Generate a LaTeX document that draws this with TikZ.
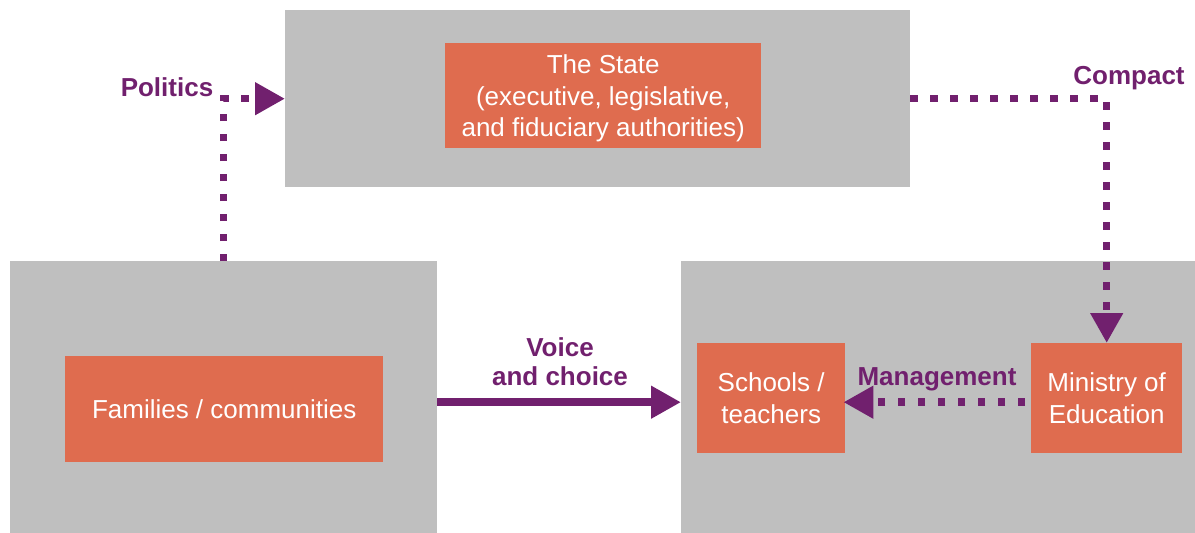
\documentclass[tikz,border=0pt]{standalone}
\usepackage{fontspec}
\setmainfont{Liberation Sans}
\usetikzlibrary{arrows.meta,positioning}
\definecolor{panelgray}{HTML}{BFBFBF}
\definecolor{actor}{HTML}{DF6C4F}
\definecolor{plum}{HTML}{71206E}
\begin{document}
\begin{tikzpicture}[
  x=1pt, y=-1pt,
  panel/.style={fill=panelgray, draw=none, inner sep=0pt, anchor=north west},
  actorbox/.style={fill=actor, draw=none, text=white, align=center, inner sep=0pt, anchor=north west,
    font=\fontsize{26}{31.5}\selectfont},
  lab/.style={text=plum, font=\fontsize{26}{29}\selectfont\bfseries, align=center},
  link/.style={draw=plum, line width=7.5pt, -{Triangle[length=30pt, width=31pt]}},
  dotlink/.style={link, dash pattern=on 7.5pt off 12.5pt},
]
\useasboundingbox (0,0) rectangle (1195,533);
% grey panels
\node[panel, minimum width=625pt, minimum height=177pt] (statepanel) at (285,10) {};
\node[panel, minimum width=427pt, minimum height=272pt] (familypanel) at (10,261) {};
\node[panel, minimum width=514pt, minimum height=272pt] (servicepanel) at (681,261) {};
% actors
\node[actorbox, minimum width=316pt, minimum height=105pt, text depth=-8pt] (state) at (445,43)
  {The State\\(executive, legislative,\\and fiduciary authorities)};
\node[actorbox, minimum width=318pt, minimum height=106pt] (families) at (65,356) {Families / communities};
\node[actorbox, minimum width=148pt, minimum height=110pt, text depth=-7pt] (schools) at (697,343) {Schools /\\teachers};
\node[actorbox, minimum width=151pt, minimum height=110pt, text depth=-7pt] (ministry) at (1031,343) {Ministry of\\Education};
% accountability links
\draw[dotlink] (familypanel.north) |- (statepanel.west);
\draw[dotlink] (statepanel.east) -| (ministry.north);
\draw[link] ([yshift=-5pt]familypanel.east) -- ([yshift=-5pt]servicepanel.west);
\draw[dotlink, shorten >=-2pt] ([yshift=-4pt,xshift=-6pt]ministry.west) -- ([yshift=-4pt]schools.east);
% labels
\node[lab] (politicslab) at (167,87) {Politics};
\node[lab] (compactlab) at (1129,78) {Compact};
\node[lab] (voicelab) at (560,362) {Voice\\and choice};
\node[lab] (managementlab) at (937,379) {Management};
\end{tikzpicture}
\end{document}
